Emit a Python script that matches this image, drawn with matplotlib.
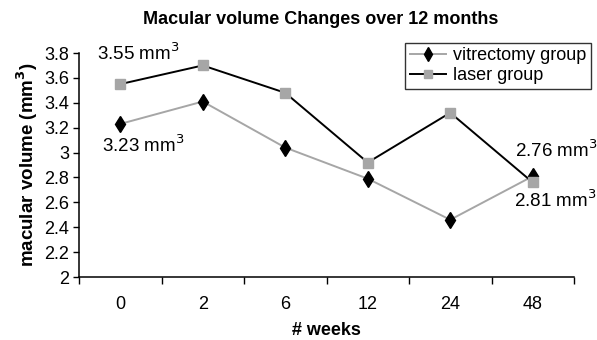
import numpy as np
import matplotlib
matplotlib.use("Agg")
import matplotlib.pyplot as plt

plt.rcParams['font.family'] = ['Liberation Sans', 'DejaVu Sans']

# data
weeks = ["0", "2", "6", "12", "24", "48"]
vitrectomy = [3.23, 3.41, 3.04, 2.79, 2.46, 2.81]
laser = [3.55, 3.70, 3.48, 2.92, 3.32, 2.76]

x = np.arange(len(weeks))

fig = plt.figure(figsize=(5.97, 3.40), dpi=100)
ax = fig.add_axes([79 / 597, 63 / 340, 495 / 597, 224 / 340])

ax.plot(x, vitrectomy, color='#a6a6a6', lw=1.4, marker='d', ms=8.5,
        mfc='black', mec='black', label='vitrectomy group', zorder=3)
ax.plot(x, laser, color='black', lw=1.4, marker='s', ms=7.5,
        mfc='#a6a6a6', mec='#a6a6a6', label='laser group', zorder=4)

yt = np.round(np.arange(2, 3.81, 0.2), 1)
ax.set_xlim(-0.5, len(weeks) - 0.5)
ax.set_ylim(2, 3.8)
ax.set_yticks(yt)
ax.set_yticklabels([f"{v:g}" for v in yt])
ax.set_xticks(x)
ax.set_xticklabels(weeks)
ax.set_xticks(np.arange(-0.5, len(weeks), 1), minor=True)
ax.tick_params(axis='x', which='major', length=0, pad=14, labelsize=13)
ax.tick_params(axis='x', which='minor', length=5, direction='out', width=1)
ax.tick_params(axis='y', length=4, direction='out', width=1, labelsize=13, pad=3)

for s in ['top', 'right']:
    ax.spines[s].set_visible(False)
for s in ['left', 'bottom']:
    ax.spines[s].set_linewidth(1.1)

fig.text(0.537, 1 - 20 / 340, "Macular volume Changes over 12 months", fontsize=13,
         fontweight='bold', ha='center', va='center')
ax.set_xlabel("# weeks", fontsize=13, fontweight='bold', labelpad=6)
ax.set_ylabel("macular volume (mm$^\\mathbf{3}$)", fontsize=13.5, fontweight='bold', labelpad=3)

# value annotations
ax.text(0.22, laser[0] + 0.25, f"{laser[0]:.2f} mm$^3$", ha='center', va='center', fontsize=13.5)
ax.text(0.28, vitrectomy[0] - 0.17, f"{vitrectomy[0]:.2f} mm$^3$", ha='center', va='center', fontsize=13.5)
ax.text(5.29, laser[5] + 0.26, f"{laser[5]:.2f} mm$^3$", ha='center', va='center', fontsize=13.5)
ax.text(5.27, vitrectomy[5] - 0.19, f"{vitrectomy[5]:.2f} mm$^3$", ha='center', va='center', fontsize=13.5)

leg = ax.legend(loc='upper right', bbox_to_anchor=(1.034, 1.045), fontsize=13,
                frameon=True, fancybox=False, edgecolor='black',
                handlelength=2.0, borderpad=0.25, labelspacing=0.15,
                handletextpad=0.4, borderaxespad=0, markerscale=0.8)
leg.get_frame().set_linewidth(1)

fig.savefig("out.png", dpi=100)
